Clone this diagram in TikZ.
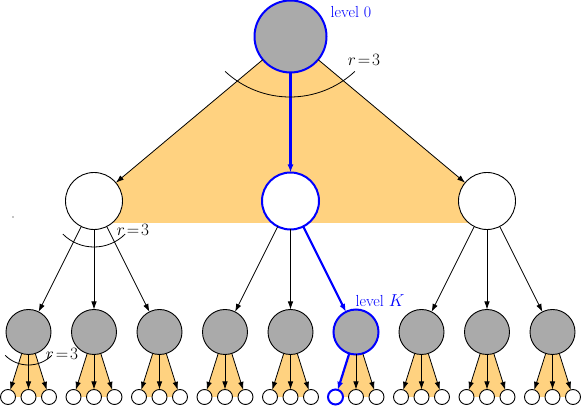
\documentclass[tikz,border=0pt]{standalone}
\usetikzlibrary{arrows.meta,calc}
\definecolor{fanorange}{RGB}{255,210,128}
\definecolor{nodegray}{RGB}{170,170,170}
\pgfdeclarelayer{bg}
\pgfsetlayers{bg,main}
\begin{document}
\begin{tikzpicture}[x=1pt,y=1pt,
  every node/.style={inner sep=0pt,outer sep=0pt},
  lvlzero/.style={circle,draw=blue,line width=2pt,fill=nodegray,minimum size=72pt},
  lvlone/.style={circle,draw=black,line width=0.9pt,fill=white,minimum size=57pt},
  lvloneblue/.style={lvlone,draw=blue,line width=2pt},
  lvltwo/.style={circle,draw=black,line width=0.9pt,fill=nodegray,minimum size=45pt},
  lvltwoblue/.style={lvltwo,draw=blue,line width=2pt},
  leaf/.style={circle,draw=black,line width=0.9pt,fill=white,minimum size=15pt},
  leafblue/.style={leaf,draw=blue,line width=2pt},
  edge/.style={draw=black,line width=0.8pt,-{Latex[length=8pt,width=5.5pt]}},
  pathedge/.style={draw=blue,line width=2.2pt,-{Latex[length=8pt,width=6pt]}},
  fan/.style={fill=fanorange},
  radarc/.style={draw=black,line width=0.8pt},
  lbl/.style={font=\fontsize{16}{19}\selectfont},
  bluelbl/.style={lbl,text=blue}
]
\useasboundingbox (0,0) rectangle (582,407);
% nodes
\node[lvlzero] (R) at (290.5,370.5) {};
\node[lvlone] (A) at (94,206) {};
\node[lvloneblue] (B) at (290.5,206) {};
\node[lvlone] (C) at (487,206) {};
\foreach \p/\i/\dx/\st/\la in {A/1/-65.5/lvltwo/leaf, A/2/0/lvltwo/leaf, A/3/65.5/lvltwo/leaf,
  B/1/-65.5/lvltwo/leaf, B/2/0/lvltwo/leaf, B/3/65.5/lvltwoblue/leafblue,
  C/1/-65.5/lvltwo/leaf, C/2/0/lvltwo/leaf, C/3/65.5/lvltwo/leaf}{
  \node[\st] (\p\i) at ($(\p)+(\dx,-131)$) {};
  \node[\la] (\p\i a) at ($(\p\i)+(-20.5,-65)$) {};
  \node[leaf] (\p\i b) at ($(\p\i)+(0,-65)$) {};
  \node[leaf] (\p\i c) at ($(\p\i)+(20.5,-65)$) {};
}
% shaded fans
\begin{pgfonlayer}{bg}
  \fill[fan] (R.center) -- (A.center) -- ($(A.center)+(0,-22)$) -- ($(C.center)+(0,-22)$) -- (C.center) -- cycle;
  \foreach \n in {A1,A2,A3,B1,B2,B3,C1,C2,C3}{
    \fill[fan] (\n.center) -- (\n a.center) -- (\n c.center) -- cycle;
  }
\end{pgfonlayer}
% edges
\draw[edge] (R) -- (A);
\draw[pathedge] (R) -- (B);
\draw[edge] (R) -- (C);
\foreach \p/\i/\st in {A/1/edge, A/2/edge, A/3/edge, B/1/edge, B/2/edge, B/3/pathedge, C/1/edge, C/2/edge, C/3/edge}{
  \draw[\st] (\p) -- (\p\i);
}
\foreach \n/\st in {A1/edge, A2/edge, A3/edge, B1/edge, B2/edge, B3/pathedge, C1/edge, C2/edge, C3/edge}{
  \draw[\st] (\n) -- (\n a);
  \draw[edge] (\n) -- (\n b);
  \draw[edge] (\n) -- (\n c);
}
% radius arcs
\draw[radarc] (290,405) ++(227:95) arc[start angle=227,end angle=313,radius=95];
\draw[radarc] (94,204) ++(225:44) arc[start angle=225,end angle=315,radius=44];
\draw[radarc] (28.5,75) ++(225:33) arc[start angle=225,end angle=315,radius=33];
% labels
\node[bluelbl] (l0) at (351,395) {level 0};
\node[bluelbl] (lK) at (380,106) {level $K$};
\node[lbl] (r0) at (364,347) {$r\!=\!3$};
\node[lbl] (r1) at (133,177) {$r\!=\!3$};
\node[lbl] (r2) at (62,53) {$r\!=\!3$};
% stray dot
\fill (13,190) circle[radius=0.6];
\end{tikzpicture}
\end{document}
